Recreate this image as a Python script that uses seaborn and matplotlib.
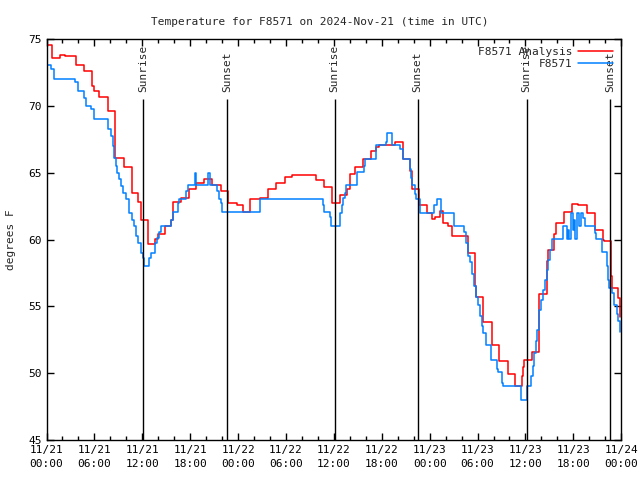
import matplotlib
matplotlib.use("Agg")
import matplotlib.pyplot as plt
import matplotlib.dates as mdates
import pandas as pd
import seaborn as sns

# hours after 2024-11-21 00:00 UTC
analysis_hours = [
    0.0, 0.66, 1.7, 2.3, 3.7, 4.7, 5.7, 5.9, 6.6, 7.7, 8.6, 9.7, 10.7, 11.4, 11.8,
    12.7, 13.65, 13.94, 14.8, 15.6, 15.8, 16.8, 17.8, 18.75, 19.7, 20.75, 21.8, 22.75,
    23.9, 24.63, 25.55, 26.7, 27.76, 28.8, 29.84, 30.8, 33.8, 34.77, 35.8, 36.73, 37.7,
    37.98, 38.65, 39.7, 40.7, 41.24, 41.66, 42.7, 43.66, 44.67, 45.5, 45.75, 45.83,
    46.67, 47.7, 48.25, 48.65, 49.3, 49.7, 50.3, 50.75, 52.75, 53.7, 53.75, 54.7,
    55.75, 56.7, 57.75, 58.75, 59.6, 59.7, 59.85, 60.77, 61.65, 61.73, 62.65, 62.86,
    63.6, 63.8, 64.8, 65.8, 66.6, 67.7, 68.7, 69.7, 69.9, 70.7, 70.8, 71.6, 71.8, 71.9,
]
analysis_temps = [
    74.6, 73.6, 73.8, 73.75, 73.1, 72.6, 71.5, 71.1, 70.7, 69.6, 66.1, 65.4, 63.5, 62.8, 61.5,
    59.7, 60.05, 60.4, 61.0, 61.5, 62.8, 63.1, 63.8, 64.25, 64.55, 64.1, 63.6, 62.7,
    62.6, 62.05, 63.0, 63.1, 63.75, 64.25, 64.7, 64.85, 64.45, 63.9, 62.75, 63.3, 63.8,
    64.9, 65.45, 66.0, 66.6, 66.9, 67.05, 67.1, 67.3, 66.0, 65.1, 64.1, 63.75,
    62.6, 62.0, 61.55, 61.7, 62.1, 61.25, 61.0, 60.3, 59.0, 56.5, 55.7, 53.8,
    52.1, 50.9, 49.9, 49.0, 49.75, 50.45, 51.0, 51.55, 54.75, 55.9, 58.4, 59.25,
    60.4, 61.25, 62.05, 62.65, 62.6, 62.0, 60.75, 60.0, 59.9, 57.25, 56.4, 55.6, 54.2, 54.2,
]

station_hours = [
    0.0, 0.55, 0.95, 3.6, 4.0, 4.7, 4.9, 5.6, 5.9, 7.68, 8.1, 8.3, 8.5, 8.65, 8.85,
    9.14, 9.35, 9.64, 9.9, 10.27, 10.7, 10.9, 11.2, 11.5, 11.85, 12.06, 12.27, 12.8,
    13.1, 13.65, 13.86, 14.06, 14.36, 15.65, 15.8, 16.45, 16.65, 17.5, 17.74, 18.57,
    18.78, 20.24, 20.54, 21.37, 21.66, 21.87, 22.0, 26.7, 34.64, 34.8, 35.5, 35.7,
    36.8, 36.98, 37.2, 37.4, 37.57, 37.8, 38.95, 39.8, 39.86, 41.24, 42.5, 42.7, 43.25,
    44.3, 44.67, 45.55, 45.67, 45.83, 46.17, 46.33, 46.75, 48.6, 48.9, 49.4, 51.0,
    52.35, 52.5, 52.75, 53.05, 53.26, 53.5, 53.8, 54.1, 54.3, 54.5, 54.7, 55.0, 55.7,
    56.4, 56.5, 57.1, 57.2, 59.5, 60.2, 60.7, 60.9, 61.1, 61.3, 61.5, 61.65, 61.7,
    61.9, 62.15, 62.45, 62.65, 62.85, 63.05, 63.3, 64.75, 65.15, 65.35, 65.5, 65.7,
    66.0, 66.1, 66.25, 66.45, 66.7, 67.0, 67.25, 67.45, 68.7, 68.8, 69.6, 70.2, 70.3,
    70.45, 70.9, 71.1, 71.45, 71.65, 71.8,
]
station_temps = [
    73.1, 72.75, 72.05, 71.8, 71.1, 70.6, 70.0, 69.75, 69.05, 68.25, 67.75, 67.0, 66.1, 65.5, 65.0,
    64.5, 64.0, 63.5, 63.0, 62.0, 61.5, 61.0, 60.25, 59.75, 59.0, 58.6, 58.05, 58.6,
    59.0, 59.75, 60.1, 60.6, 61.05, 61.5, 62.05, 62.75, 63.05, 63.6, 64.05, 65.0,
    64.05, 65.0, 64.05, 63.6, 63.05, 62.75, 62.05, 63.05, 62.6, 62.05, 61.7, 61.0,
    62.0, 62.55, 63.1, 63.5, 64.05, 64.05, 65.05, 65.5, 66.05, 67.05, 67.3, 68.0, 67.1,
    66.8, 66.0, 65.25, 64.6, 64.05, 63.4, 63.0, 62.0, 62.6, 63.05, 62.0, 61.0,
    60.55, 59.75, 58.75, 58.3, 57.4, 56.55, 55.7, 55.1, 54.25, 53.5, 53.0, 52.1, 51.0,
    50.3, 50.05, 49.25, 49.05, 48.0, 49.0, 49.75, 50.5, 51.5, 52.4, 53.25, 53.75, 54.75,
    55.5, 56.25, 57.0, 57.75, 58.5, 59.25, 60.05, 61.0, 60.05, 60.75, 60.05, 62.0,
    60.75, 61.5, 60.05, 62.0, 61.0, 62.0, 61.6, 61.05, 60.5, 60.05, 59.05, 58.0, 57.0,
    56.4, 56.0, 55.1, 54.4, 53.9, 53.1,
]

sun_hours = [12.06, 22.58, 36.1, 46.49, 60.14, 70.59]
sun_labels = ["Sunrise", "Sunset", "Sunrise", "Sunset", "Sunrise", "Sunset"]

BASE = pd.Timestamp("2024-11-21 00:00")


def to_times(hours):
    return BASE + pd.to_timedelta(hours, unit="h")


sns.set_theme(style="ticks")
plt.rcParams["font.family"] = ["DejaVu Sans Mono"]
plt.rcParams["font.size"] = 8

fig = plt.figure(figsize=(6.4, 4.8), dpi=100)
ax = fig.add_axes([0.0727, 0.084, 0.898, 0.834])

red = pd.DataFrame({"time": to_times(analysis_hours), "temp": analysis_temps})
blue = pd.DataFrame({"time": to_times(station_hours), "temp": station_temps})

sns.lineplot(data=red, x="time", y="temp", ax=ax, color="#ff0000", lw=1.1,
             drawstyle="steps-post", estimator=None, label="F8571 Analysis")
sns.lineplot(data=blue, x="time", y="temp", ax=ax, color="#0080ff", lw=1.1,
             drawstyle="steps-post", estimator=None, label="F8571")

sun_times = to_times(sun_hours)
ax.vlines(sun_times, 45, 70.55, color="black", lw=1)
for t, lab in zip(sun_times, sun_labels):
    ax.text(t, 71.05, lab, rotation=90, ha="center", va="bottom", fontsize=8)

ax.set_xlim(BASE, BASE + pd.Timedelta(hours=72))
ax.set_ylim(45, 75)
ax.set_yticks(range(45, 76, 5))
ax.xaxis.set_major_locator(mdates.HourLocator(byhour=[0, 6, 12, 18]))
ax.xaxis.set_minor_locator(mdates.HourLocator(interval=2))
ax.xaxis.set_major_formatter(mdates.DateFormatter("%m/%d\n%H:%M"))
ax.tick_params(which="both", direction="in", top=True, right=True, labelsize=8,
               color="black", labelcolor="black")
ax.tick_params(which="major", length=5, width=1)
ax.tick_params(which="minor", length=3, width=1)
for s in ax.spines.values():
    s.set_color("black")
    s.set_linewidth(1)

fig.canvas.draw()
for lbl in ax.get_xticklabels():
    lbl.set_linespacing(1.55)

ax.set_xlabel("")
ax.set_ylabel("degrees F", fontsize=8, labelpad=9)
fig.suptitle("Temperature for F8571 on 2024-Nov-21 (time in UTC)", fontsize=8, y=0.965)

ax.legend(loc="upper right", frameon=False, markerfirst=False, fontsize=8,
          handlelength=3.2, labelspacing=0.15, borderaxespad=0.3, handletextpad=0.5)

fig.savefig("out.png", dpi=100)
